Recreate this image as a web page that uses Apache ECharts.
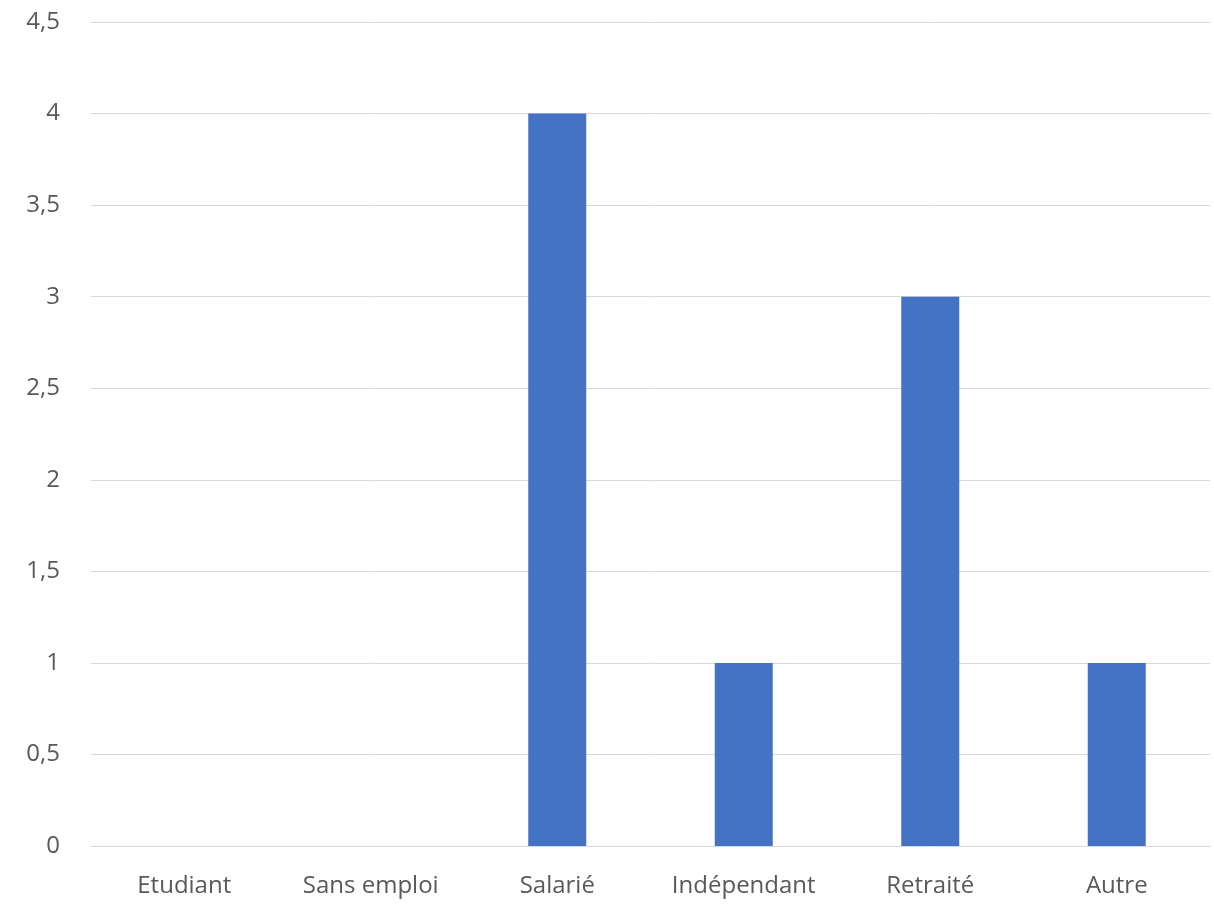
<!DOCTYPE html>
<html><head><meta charset="utf-8">
<script src="https://cdn.jsdelivr.net/npm/echarts@6/dist/echarts.min.js"></script>
<style>html,body{margin:0;padding:0;background:#fff}#c{width:1214px;height:905px}</style>
</head><body><div id="c"></div>
<script>
const categories = ['Etudiant', 'Sans emploi', 'Salarié', 'Indépendant', 'Retraité', 'Autre'];
const values = [0, 0, 4, 1, 3, 1];
const chart = echarts.init(document.getElementById('c'));
chart.setOption({
  animation: false,
  grid: { left: 91, right: 4, top: 22, bottom: 59 },
  xAxis: {
    type: 'category', data: categories,
    axisLine: { lineStyle: { color: '#d9d9d9', width: 1 } },
    axisTick: { show: false },
    axisLabel: { interval: 0, hideOverlap: false, color: '#595959', fontSize: 24, fontFamily: 'Open Sans', margin: 28 }
  },
  yAxis: {
    type: 'value', min: 0, max: 4.5, interval: 0.5,
    axisLine: { show: false }, axisTick: { show: false },
    splitLine: { lineStyle: { color: '#d9d9d9', width: 1 } },
    axisLabel: { color: '#595959', fontSize: 24, fontFamily: 'Open Sans', margin: 31,
      formatter: v => String(v).replace('.', ',') }
  },
  series: [{
    type: 'bar', data: values, barWidth: 58,
    itemStyle: { color: '#4472c4' }
  }]
});
</script></body></html>
